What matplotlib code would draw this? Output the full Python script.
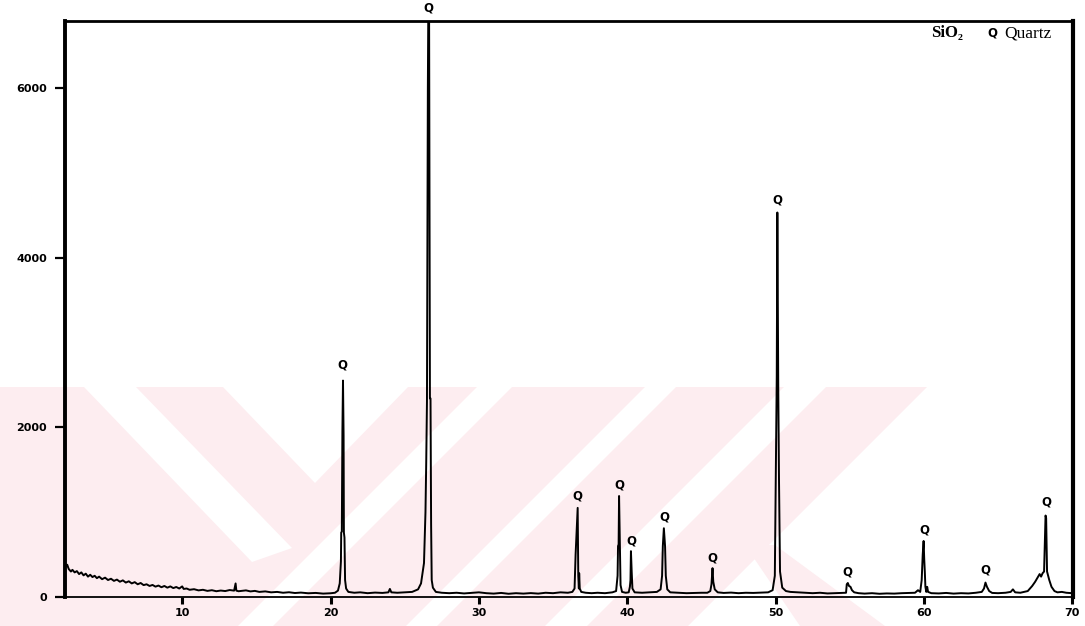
import matplotlib
matplotlib.use("Agg")
import matplotlib.pyplot as plt
from matplotlib.patches import Polygon

# XRD trace (2-theta in degrees, counts)
two_theta = [
    2.15, 2.25, 2.35, 2.5, 2.6, 2.75, 2.9, 3.05, 3.2, 3.35, 3.5, 3.65, 3.8, 3.95,
    4.1, 4.25, 4.4, 4.6, 4.8, 5.0, 5.2, 5.4, 5.6, 5.8, 6.0, 6.2, 6.4, 6.6, 6.8,
    7.0, 7.2, 7.4, 7.6, 7.8, 8.0, 8.2, 8.4, 8.6, 8.8, 9.0, 9.2, 9.4, 9.6, 9.8,
    10.0, 10.1, 10.3, 10.5, 10.8, 11.1, 11.4, 11.7, 12.0, 12.3, 12.6, 12.9, 13.2,
    13.5, 13.6, 13.65, 13.8, 14.0, 14.3, 14.6, 14.9, 15.2, 15.6, 16.0, 16.4, 16.8,
    17.2, 17.6, 18.0, 18.5, 19.0, 19.5, 20.0, 20.3, 20.5, 20.62, 20.7, 20.72,
    20.76, 20.8, 20.84, 20.88, 20.9, 20.94, 20.98, 21.05, 21.2, 21.6, 22.0, 22.5,
    23.0, 23.5, 23.9, 24.0, 24.1, 24.5, 25.0, 25.5, 25.9, 26.1, 26.3, 26.4, 26.45,
    26.5, 26.56, 26.6, 26.64, 26.7, 26.74, 26.78, 26.82, 26.9, 27.1, 27.5, 28.0,
    28.5, 29.0, 29.5, 30.0, 30.5, 31.0, 31.5, 32.0, 32.5, 33.0, 33.5, 34.0, 34.5,
    35.0, 35.5, 36.0, 36.3, 36.45, 36.52, 36.6, 36.66, 36.7, 36.74, 36.76, 36.8,
    36.9, 37.2, 37.6, 38.0, 38.5, 39.0, 39.25, 39.35, 39.38, 39.42, 39.45, 39.5,
    39.55, 39.65, 39.9, 40.1, 40.18, 40.22, 40.25, 40.3, 40.35, 40.5, 41.0, 41.5,
    42.0, 42.25, 42.35, 42.4, 42.47, 42.55, 42.6, 42.7, 42.9, 43.5, 44.0, 44.5,
    45.0, 45.4, 45.6, 45.68, 45.75, 45.8, 45.9, 46.1, 46.5, 47.0, 47.5, 48.0,
    48.5, 49.0, 49.5, 49.8, 49.95, 50.02, 50.08, 50.12, 50.18, 50.23, 50.3, 50.45,
    50.7, 51.0, 51.5, 52.0, 52.5, 53.0, 53.5, 54.0, 54.5, 54.75, 54.8, 54.87,
    54.95, 55.05, 55.15, 55.3, 55.6, 56.0, 56.5, 57.0, 57.5, 58.0, 58.5, 59.0,
    59.4, 59.6, 59.75, 59.85, 59.92, 59.98, 60.02, 60.06, 60.1, 60.16, 60.22,
    60.28, 60.5, 61.0, 61.5, 62.0, 62.5, 63.0, 63.5, 63.9, 64.05, 64.15, 64.25,
    64.4, 64.6, 65.0, 65.5, 65.85, 66.0, 66.15, 66.5, 67.0, 67.3, 67.5, 67.7,
    67.8, 67.9, 68.0, 68.1, 68.2, 68.24, 68.3, 68.45, 68.6, 68.8, 69.0, 69.3,
    69.6, 70.0,
]
counts = [
    360, 380, 330, 300, 320, 290, 305, 270, 290, 255, 275, 240, 262, 235,
    250, 222, 240, 210, 228, 200, 215, 190, 205, 180, 196, 170, 185, 160, 175,
    150, 165, 140, 150, 130, 142, 122, 135, 115, 130, 110, 125, 105, 118, 100,
    125, 95, 100, 85, 92, 78, 85, 72, 80, 68, 76, 70, 82,
    75, 160, 75, 68, 72, 78, 66, 72, 60, 66, 55, 60, 50,
    56, 47, 52, 44, 48, 40, 44, 50, 75, 160, 420, 760,
    770, 1950, 2550, 1900, 760, 700, 200, 100, 60, 50, 55, 45,
    52, 48, 55, 95, 55, 50, 55, 60, 90, 160, 400, 1000, 1580,
    2300, 6000, 7200, 7200, 2340, 2340, 850, 200, 110, 60, 50, 45,
    50, 42, 48, 55, 45, 40, 48, 38, 45, 40, 46, 40, 50,
    45, 55, 50, 60, 100, 500, 800, 1050, 250, 100, 280, 100,
    60, 50, 45, 50, 45, 55, 70, 250, 600, 620, 1190, 700,
    140, 60, 50, 55, 120, 200, 540, 300, 100, 55, 50, 55,
    60, 90, 250, 600, 810, 600, 250, 90, 55, 50, 45, 48,
    50, 50, 70, 150, 340, 180, 90, 55, 48, 52, 45, 50,
    48, 52, 55, 80, 250, 1500, 2600, 4530, 2500, 1400, 300, 110,
    70, 60, 55, 50, 45, 50, 42, 45, 48, 50, 150, 165,
    130, 120, 80, 55, 45, 40, 45, 38, 42, 40, 45, 48,
    50, 80, 60, 200, 500, 660, 450, 300, 120, 60, 120,
    60, 45, 42, 48, 40, 45, 42, 50, 60, 100, 170, 120,
    70, 48, 45, 50, 60, 90, 55, 50, 70, 130, 180, 240,
    270, 240, 280, 300, 960, 930, 300, 200, 120, 70, 55, 60,
    50, 45,
]

# quartz reflections marked with "Q" and the height of each marker
peak_pos = [20.82, 26.62, 36.64, 39.46, 40.27, 42.48, 45.76, 50.13, 54.87, 60.0, 64.17, 68.24]
label_height = [2730, 6940, 1190, 1320, 660, 940, 460, 4680, 295, 790, 318, 1120]

xtick_vals = [10, 20, 30, 40, 50, 60, 70]
ytick_vals = [0, 2000, 4000, 6000]

W, H = 1085, 626
fig = plt.figure(figsize=(W / 100, H / 100), dpi=100)
fig.patch.set_facecolor("white")


def fpos(x, y):
    # pixel (from top-left) -> figure fraction
    return (x / W, 1 - y / H)


# faint pink watermark of the scanned page, kept behind the axes
pink = "#fdedf0"
wm_pink = [
    [(0, 387), (927, 387), (688, 626), (0, 626)],
    [(745, 545), (775, 545), (885, 626), (800, 626)],
]
wm_white = [
    [(84, 387), (136, 387), (292, 548), (252, 562)],
    [(223, 387), (408, 387), (315, 483)],
    [(477, 387), (512, 387), (273, 626), (238, 626)],
    [(645, 387), (676, 387), (437, 626), (406, 626)],
    [(784, 387), (826, 387), (587, 626), (545, 626)],
]
for pts in wm_pink:
    fig.patches.append(Polygon([fpos(*p) for p in pts], closed=True,
                               transform=fig.transFigure, facecolor=pink,
                               edgecolor="none", zorder=-3))
for pts in wm_white:
    fig.patches.append(Polygon([fpos(*p) for p in pts], closed=True,
                               transform=fig.transFigure, facecolor="white",
                               edgecolor="none", zorder=-2))

ax = fig.add_axes([65 / W, 1 - 597 / H, (1073 - 65) / W, (597 - 20.7) / H])
ax.set_facecolor("none")

ax.plot(two_theta, counts, color="black", lw=1.4)

ax.set_xlim(2.1, 70.05)
ax.set_ylim(0, 6790)

ax.set_xticks(xtick_vals)
ax.set_yticks(ytick_vals)
ax.tick_params(axis="x", direction="out", length=5, width=2.2, pad=3, labelsize=8)
ax.tick_params(axis="y", direction="out", length=7, width=1.6, pad=6, labelsize=8)
for lbl in ax.get_xticklabels() + ax.get_yticklabels():
    lbl.set_fontweight("bold")

ax.spines["left"].set_linewidth(2.8)
ax.spines["right"].set_linewidth(3.0)
ax.spines["top"].set_linewidth(2.0)
ax.spines["bottom"].set_linewidth(1.3)

for p, h in zip(peak_pos, label_height):
    ax.text(p, h, "Q", ha="center", va="center", fontsize=8.5,
            fontweight="bold", clip_on=False)

# phase legend, top right
serif = ["Liberation Serif", "DejaVu Serif"]
fig.text(*fpos(931, 33), "SiO₂", ha="left", va="center", fontsize=12,
         fontweight="bold", family=serif)
fig.text(*fpos(992, 33), "Q", ha="center", va="center", fontsize=8.5,
         fontweight="bold")
fig.text(*fpos(1004, 33), "Quartz", ha="left", va="center", fontsize=12.5,
         family=serif)

fig.savefig("out.png", dpi=100)
